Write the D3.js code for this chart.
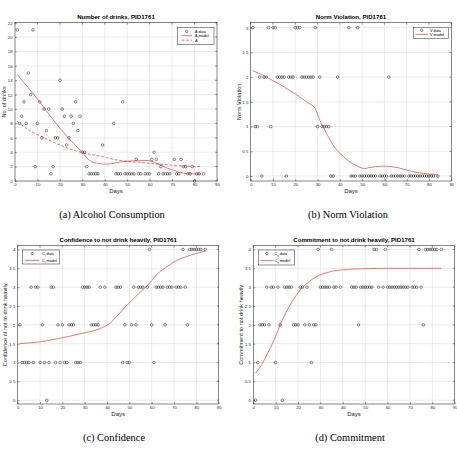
<!DOCTYPE html>
<html>
<head>
<meta charset="utf-8">
<script src="https://cdn.jsdelivr.net/npm/d3@7"></script>
<style>
  body { margin: 0; background: #fff; }
  text { font-family: "Liberation Sans", Arial, sans-serif; }
</style>
</head>
<body>
<div id="vis"></div>
<script>
// observation days (shared by all four panels)
const days = [1,2,3,4,5,6,7,8,9,10,11,12,13,14,15,16,17,18,19,20,21,22,23,24,25,26,27,28,29,30,31,32,33,34,35,36,37,
  39,
  44,45,46,47,48,49,50,51,52,53,54,55,56,
  58,59,60,61,62,63,64,65,66,67,68,69,
  71,72,73,74,75,76,77,78,79,80,81,82,
  84];

// A data - number of drinks
const drinks = [21,8,9,11,8,15,12,21,2,8,11,6,10,7,10,1,2,6,6,14,10,9,5,6,9,8,11,7,9,4,4,2,1,1,1,1,1,
  5,
  8,1,1,1,11,1,1,1,1,1,3,1,1,
  1,1,1,3,4,3,1,2,1,1,1,1,
  3,1,1,3,2,2,1,1,2,0,1,1,
  1];

// V data - norm violation
const normV = [3,1,1,2,0,2,2,3,1,3,3,2,2,2,2,0,2,2,2,3,3,3,2,2,2,2,2,2,3,1,2,1,1,1,1,0,0,
  2,
  3,0,0,0,3,0,0,0,0,0,0,0,0,
  0,0,0,0,2,0,0,0,0,0,0,0,
  0,0,0,0,0,0,0,0,0,0,0,0,
  0];

// C_I data - confidence
const confI = [2,1,1,1,1,3,1,3,3,1,2,1,0,1,3,3,1,2,1,2,1,1,2,2,2,1,1,1,3,3,3,3,2,2,2,2,3,
  3,
  3,3,3,1,2,1,1,2,3,2,3,3,3,
  3,4,2,1,3,3,3,3,2,3,3,3,
  3,3,3,4,3,2,4,4,4,4,4,4,
  4];

// C_s data - commitment
const commS = [0,1,2,2,2,3,2,3,3,1,3,2,0,3,3,3,3,2,2,2,3,3,2,3,2,1,2,2,4,3,3,3,3,3,4,3,3,
  3,
  3,3,3,2,3,3,3,3,3,3,4,4,3,
  3,4,3,3,3,3,3,3,3,3,3,3,
  3,3,3,4,3,2,4,4,4,4,4,4,
  4];

// model curves
const aModelDays = [1,5,11,17,24,28,30,32,34,37,40,44,47,53,59,63,67,71,75,79,83];
const aModel     = [14.8,13.3,11.0,8.5,5.9,4.6,4.0,3.2,2.7,2.45,2.35,2.45,2.65,2.8,2.85,2.5,1.9,1.45,1.1,1.0,0.97];
const aStarDays  = [1,6,12,20,27,33,39,44,49,55,60,66,72,78,83];
const aStar      = [8.3,7.1,6.15,5.0,4.2,3.75,3.4,3.0,2.78,2.6,2.45,2.3,2.15,2.05,2.0];

const vModelDays = [1,5,10,15,20,25,29,30,31,33,35,38,41,44,47,50,51,53,56,60,63,66,70,75,80,84];
const vModel     = [2.13,2.05,1.93,1.8,1.66,1.5,1.36,1.25,1.13,0.95,0.78,0.56,0.42,0.3,0.22,0.16,0.15,0.17,0.19,0.2,0.19,0.17,0.12,0.07,0.04,0.03];

const cModelDays = [1,5,10,15,20,25,30,35,38,40,42,44,46,48,50,52,54,56,58,60,62,64,66,68,70,72,75,78,81,84];
const cModel     = [1.5,1.52,1.55,1.6,1.66,1.72,1.79,1.86,1.93,1.99,2.08,2.2,2.33,2.47,2.58,2.7,2.82,2.93,3.04,3.17,3.32,3.42,3.51,3.59,3.67,3.73,3.8,3.86,3.91,3.96];

const sModelDays = [1,4,6,8.5,10,12,14,16,18,20,22,25,28,31,35,40,45,50,60,84];
const sModel     = [0.72,0.97,1.2,1.5,1.7,2.0,2.25,2.48,2.68,2.85,2.99,3.15,3.27,3.35,3.42,3.46,3.48,3.49,3.5,3.5];

// tick labels
const xTicks = [0,10,20,30,40,50,60,70,80,90];
const yTicksA = [0,2,4,6,8,10,12,14,16,18,20,22];
const yTicksV = [0,0.5,1,1.5,2,2.5,3];
const yTicksC = [0,0.5,1,1.5,2,2.5,3,3.5,4];

const captions = ['(a) Alcohol Consumption', '(b) Norm Violation', '(c) Confidence', '(d) Commitment'];

const W = 457, H = 451;
const svg = d3.select('#vis').append('svg')
  .attr('width', W).attr('height', H);

const axisColor = '#262626';
const gridColor = '#d9d9d9';
const red = '#f01818';

function pairs(xs, ys) { return xs.map((d, i) => [d, ys[i]]); }

const panels = [
  { box: [15, 217, 22.7, 181], yDomain: [0, 22], yTicks: yTicksA,
    title: 'Number of drinks, PID1761', ylabel: 'No. of drinks', ylabelX: 5.5,
    data: drinks,
    lines: [{ d: pairs(aModelDays, aModel) }, { d: pairs(aStarDays, aStar), dash: '3,1.6' }],
    legend: { box: [177.5, 27.3, 36.5, 17], rows: [31.4, 35.7, 40.2], lineX: [181.5, 192], textX: 195,
      items: [{ t: 'marker', lab: ['A data'] }, { t: 'line', lab: ['A model'] }, { t: 'dash', lab: ['A', '', '*'] }] },
    caption: { x: 112, y: 218 } },
  { box: [250.7, 451.3, 22.7, 181], yDomain: [-0.1, 3.1], yTicks: yTicksV,
    title: 'Norm Violation, PID1761', ylabel: 'Norm Violation', ylabelX: 240.5,
    data: normV,
    lines: [{ d: pairs(vModelDays, vModel) }],
    legend: { box: [413.3, 27.3, 35.4, 11.4], rows: [30.3, 34.4], lineX: [415.5, 428], textX: 430,
      items: [{ t: 'marker', lab: ['V data'] }, { t: 'line', lab: ['V model'] }] },
    caption: { x: 348, y: 218 } },
  { box: [17.7, 218.7, 245.7, 404], yDomain: [-0.1, 4.1], yTicks: yTicksC,
    title: 'Confidence to not drink heavily, PID1761', ylabel: 'Confidence of not to drink heavily', ylabelX: 7,
    data: confI,
    lines: [{ d: pairs(cModelDays, cModel) }],
    legend: { box: [22.7, 250, 36.6, 14], rows: [253.6, 260.4], lineX: [25, 39.3], textX: 42,
      items: [{ t: 'marker', lab: ['C', 'I', ' data'] }, { t: 'line', lab: ['C', 'I', ' model'] }] },
    caption: { x: 114, y: 441 } },
  { box: [253.3, 454.7, 245.7, 404], yDomain: [-0.1, 4.1], yTicks: yTicksC,
    title: 'Commitment to not drink heavily, PID1761', ylabel: 'Commitment to not drink heavily', ylabelX: 242.5,
    data: commS,
    lines: [{ d: pairs(sModelDays, sModel) }],
    legend: { box: [258.3, 250, 36, 15], rows: [253.6, 260.6], lineX: [260.3, 273.3], textX: 274.5,
      items: [{ t: 'marker', lab: ['C', 's', ' data'] }, { t: 'line', lab: ['C', 's', ' model'] }] },
    caption: { x: 350, y: 441 } }
];

function addLabel(sel, lab) {
  sel.append('tspan').text(lab[0]);
  if (lab.length > 1) {
    if (lab[1]) sel.append('tspan').attr('baseline-shift', 'sub').attr('font-size', '0.7em').text(lab[1]);
    if (lab[2] === '*') sel.append('tspan').attr('baseline-shift', 'super').attr('font-size', '0.8em').text('*');
    else sel.append('tspan').text(lab[2]);
  }
}

panels.forEach((p, idx) => {
  const [x0, x1, y0, y1] = p.box;
  const xScale = d3.scaleLinear().domain([0, 90]).range([x0, x1]);
  const yScale = d3.scaleLinear().domain(p.yDomain).range([y1, y0]);

  const g = svg.append('g');

  // grid
  g.selectAll('.gx').data(xTicks.slice(1, -1)).join('line')
    .attr('x1', d => xScale(d)).attr('x2', d => xScale(d))
    .attr('y1', y0).attr('y2', y1)
    .attr('stroke', gridColor).attr('stroke-width', 0.5);
  g.selectAll('.gy').data(p.yTicks).join('line')
    .attr('x1', x0).attr('x2', x1)
    .attr('y1', d => yScale(d)).attr('y2', d => yScale(d))
    .attr('stroke', gridColor).attr('stroke-width', 0.5);

  // axes
  const xAxis = d3.axisBottom(xScale).tickValues(xTicks).tickSize(-1.8).tickSizeOuter(0).tickPadding(2.4);
  const yAxis = d3.axisLeft(yScale).tickValues(p.yTicks).tickSize(-1.8).tickSizeOuter(0).tickPadding(2.4)
    .tickFormat(d3.format('~g'));
  const gx = g.append('g').attr('transform', `translate(0,${y1})`).call(xAxis);
  const gy = g.append('g').attr('transform', `translate(${x0},0)`).call(yAxis);
  [gx, gy].forEach(a => {
    a.select('.domain').remove();
    a.selectAll('line').attr('stroke', axisColor).attr('stroke-width', 0.5);
    a.selectAll('text').attr('font-size', 4.3).attr('fill', axisColor)
      .style('font-family', '"Liberation Sans", Arial, sans-serif');
  });
  // mirrored ticks on top and right
  g.selectAll('.tt').data(xTicks).join('line')
    .attr('x1', d => xScale(d)).attr('x2', d => xScale(d))
    .attr('y1', y0).attr('y2', y0 + 1.8)
    .attr('stroke', axisColor).attr('stroke-width', 0.5);
  g.selectAll('.tr').data(p.yTicks).join('line')
    .attr('x1', x1).attr('x2', x1 - 1.8)
    .attr('y1', d => yScale(d)).attr('y2', d => yScale(d))
    .attr('stroke', axisColor).attr('stroke-width', 0.5);

  g.append('rect')
    .attr('x', x0).attr('y', y0).attr('width', x1 - x0).attr('height', y1 - y0)
    .attr('fill', 'none').attr('stroke', axisColor).attr('stroke-width', 0.55);

  // data points
  g.selectAll('.point').data(pairs(days, p.data)).join('circle')
    .attr('class', 'point')
    .attr('cx', d => xScale(d[0])).attr('cy', d => yScale(d[1]))
    .attr('r', 1.3)
    .attr('fill', 'none').attr('stroke', '#000').attr('stroke-width', 0.45);

  // model lines
  const line = d3.line().x(d => xScale(d[0])).y(d => yScale(d[1])).curve(d3.curveMonotoneX);
  p.lines.forEach(l => {
    g.append('path').datum(l.d)
      .attr('d', line)
      .attr('fill', 'none').attr('stroke', red).attr('stroke-width', 0.6)
      .attr('stroke-dasharray', l.dash || null);
  });

  // title and labels
  g.append('text')
    .attr('x', (x0 + x1) / 2).attr('y', y0 - 3.7)
    .attr('text-anchor', 'middle').attr('font-size', 6.1).attr('font-weight', 'bold')
    .attr('fill', '#000')
    .text(p.title);
  g.append('text')
    .attr('x', (x0 + x1) / 2).attr('y', y1 + 12.3)
    .attr('text-anchor', 'middle').attr('font-size', 6)
    .attr('fill', axisColor)
    .text('Days');
  g.append('text')
    .attr('transform', `translate(${p.ylabelX},${(y0 + y1) / 2}) rotate(-90)`)
    .attr('text-anchor', 'middle').attr('font-size', 5.6)
    .attr('fill', axisColor)
    .text(p.ylabel);

  // legend
  const lg = p.legend;
  g.append('rect')
    .attr('x', lg.box[0]).attr('y', lg.box[1]).attr('width', lg.box[2]).attr('height', lg.box[3])
    .attr('fill', '#fff').attr('stroke', axisColor).attr('stroke-width', 0.5);
  lg.items.forEach((it, i) => {
    const ry = lg.rows[i];
    if (it.t === 'marker') {
      g.append('circle')
        .attr('cx', (lg.lineX[0] + lg.lineX[1]) / 2).attr('cy', ry).attr('r', 1.2)
        .attr('fill', 'none').attr('stroke', '#000').attr('stroke-width', 0.45);
    } else {
      g.append('line')
        .attr('x1', lg.lineX[0]).attr('x2', lg.lineX[1]).attr('y1', ry).attr('y2', ry)
        .attr('stroke', red).attr('stroke-width', 0.6)
        .attr('stroke-dasharray', it.t === 'dash' ? '3,1.6' : null);
    }
    const t = g.append('text')
      .attr('x', lg.textX).attr('y', ry + 1.3)
      .attr('font-size', 3.8).attr('fill', '#000');
    addLabel(t, it.lab);
  });

  // sub-figure caption
  svg.append('text')
    .attr('x', p.caption.x).attr('y', p.caption.y)
    .attr('text-anchor', 'middle')
    .attr('font-size', 10.4)
    .style('font-family', '"Liberation Serif", "Times New Roman", serif')
    .attr('fill', '#000')
    .text(captions[idx]);
});
</script>
</body>
</html>
